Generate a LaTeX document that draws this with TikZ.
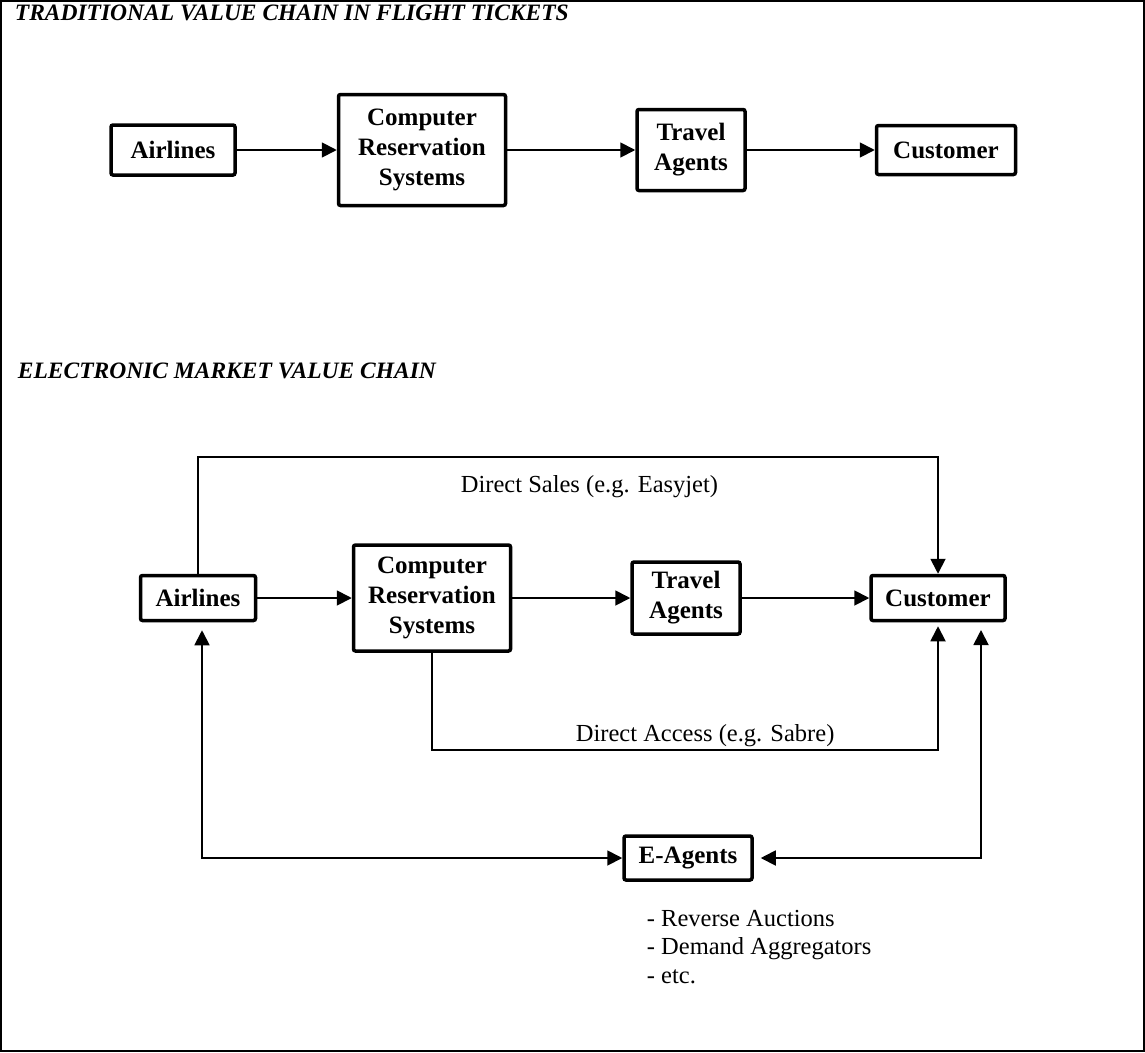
\documentclass[tikz,border=0pt]{standalone}
\usepackage{fontspec}
\setmainfont{Liberation Serif}
\usetikzlibrary{positioning,arrows.meta}

\begin{document}
\begin{tikzpicture}[x=1pt,y=-1pt,->,>={Triangle[length=15pt,width=15pt]},line width=1.8pt,
  node distance=250pt,on grid,
  box/.style={draw,line width=3.5pt,rounded corners=2pt,align=center,inner sep=0pt,
    font=\fontsize{25}{30}\selectfont\bfseries},
  lbl/.style={anchor=base west,inner sep=0pt,font=\fontsize{24.5}{28.5}\selectfont},
  ttl/.style={anchor=base west,inner sep=0pt,font=\fontsize{23.5}{28}\selectfont\bfseries\itshape}]
  \useasboundingbox (0,0) rectangle (1145,1052);
  \draw[-,line width=2pt] (1,1) rectangle (1144,1051);

  % traditional chain
  \node[ttl] (t1) at (14,20) {TRADITIONAL VALUE CHAIN IN FLIGHT TICKETS};
  \node[box,minimum width=124pt,minimum height=50pt] (al) at (173,150) {Airlines};
  \node[box,minimum width=167pt,minimum height=111pt,right=249pt of al] (crs) {Computer\\Reservation\\Systems};
  \node[box,minimum width=108pt,minimum height=81pt,right=269pt of crs] (ta) {Travel\\Agents};
  \node[box,minimum width=139pt,minimum height=49pt,right=255pt of ta] (cu) {Customer};
  \path (al) edge (crs) (crs) edge (ta) (ta) edge (cu);

  % electronic market chain
  \node[ttl] (t2) at (17,378) {ELECTRONIC MARKET VALUE CHAIN};
  \node[box,minimum width=115pt,minimum height=45pt] (al2) at (198,598) {Airlines};
  \node[box,minimum width=157pt,minimum height=106pt,right=234pt of al2] (crs2) {Computer\\Reservation\\Systems};
  \node[box,minimum width=108pt,minimum height=72pt,right=254pt of crs2] (ta2) {Travel\\Agents};
  \node[box,minimum width=134pt,minimum height=45pt,right=252pt of ta2] (cu2) {Customer};
  \node[box,minimum width=128pt,minimum height=44pt,below=260pt of ta2,xshift=2pt] (ea) {E-Agents};
  \path (al2) edge (crs2) (crs2) edge (ta2) (ta2) edge (cu2);

  \coordinate (ds) at (0,457);
  \coordinate (da) at (0,750);
  \coordinate (ce) at (981,630);
  \draw (al2.north) -- (al2.north |- ds) -| (cu2.north);
  \node[lbl] (dsl) at (460,492) {Direct Sales (e.g. Easyjet)};
  \draw[shorten >=4pt] (crs2.south) -- (crs2.south |- da) -| (cu2.south);
  \node[lbl] (dal) at (575,741) {Direct Access (e.g. Sabre)};
  \draw[<->,shorten <=8pt] ([xshift=4pt]al2.south) |- (ea.west);
  \draw[<->,shorten <=7pt] (ea.east) -| (ce);
  \node[lbl,align=left] (notes) at (646,983) {- Reverse Auctions\\- Demand Aggregators\\- etc.};
\end{tikzpicture}
\end{document}
